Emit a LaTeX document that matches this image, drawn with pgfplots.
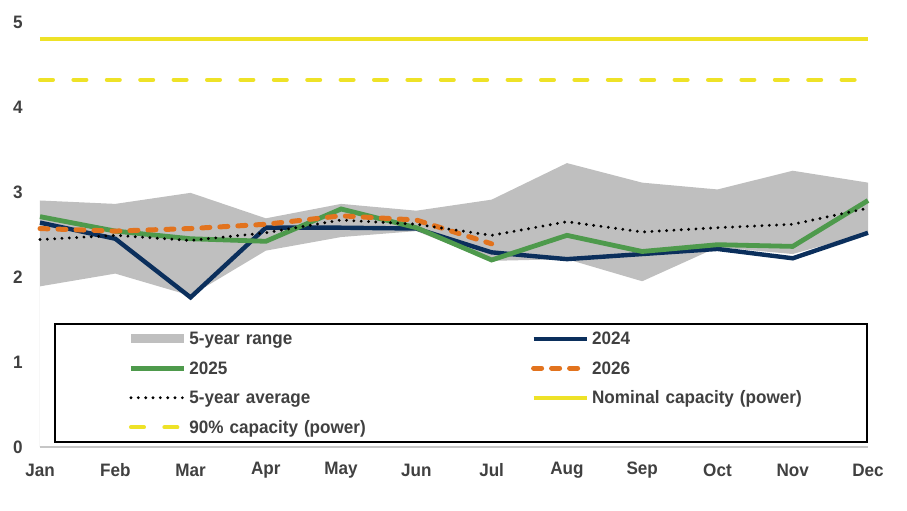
\documentclass[border=0pt]{standalone}
\usepackage{pgfplots}
\pgfplotsset{compat=1.18}
\usepackage{fontspec}
\setmainfont{Liberation Sans}[FakeStretch=0.95]
\definecolor{txt}{HTML}{404040}
\definecolor{rng}{HTML}{BFBFBF}
\definecolor{navy}{HTML}{0B2F5C}
\definecolor{grn}{HTML}{4E9A4C}
\definecolor{org}{HTML}{E2731E}
\definecolor{yel}{HTML}{EEE227}
\begin{document}
\begin{tikzpicture}
\begin{axis}[
  scale only axis,
  width=414pt, height=212.5pt,
  xmin=0, xmax=11, ymin=0, ymax=5,
  xtick={0,...,11},
  xticklabels={Jan,Feb,Mar,Apr,May,Jun,Jul,Aug,Sep,Oct,Nov,Dec},
  ytick={0,1,2,3,4,5},
  axis y line=none,
  axis x line*=bottom,
  x axis line style={draw=gray!45, line width=0.8pt, -},
  major tick length=0pt,
  xticklabel style={anchor=center, yshift=-11.5pt},
  tick label style={font=\fontsize{9}{10}\selectfont\bfseries, text=txt},
  /pgf/number format/assume math mode=true,
  clip=false,
  legend columns=2,
  legend style={at={(rel axis cs:0.0169,0.2918)}, anchor=north west,
    draw=black, line width=1pt, inner xsep=3pt, inner ysep=0pt,
    font=\fontsize{9}{10}\selectfont\bfseries, text=txt,
    nodes={anchor=west, text width=133pt, inner xsep=1.5pt, inner ysep=3.375pt,
      text height=7pt, text depth=1pt},
    /tikz/column 2/.style={column sep=2.6pt}},
  legend cell align=left,
  legend image code/.code={\path[draw=none,fill=none] (-35pt,0pt) -- (0pt,0pt);
    \draw[#1] (0pt,0pt) -- (26.5pt,0pt);},
]
\addplot[fill=rng, draw=none, area legend,
  legend image code/.code={\path[draw=none,fill=none] (-35pt,0pt) -- (0pt,0pt);
    \fill[rng] (0pt,-2.25pt) rectangle (26.5pt,2.25pt);}]
  coordinates {(0,2.90) (1,2.86) (2,2.99) (3,2.69) (4,2.86) (5,2.78)
    (6,2.91) (7,3.34) (8,3.11) (9,3.03) (10,3.25) (11,3.11)
    (11,2.52) (10,2.27) (9,2.35) (8,1.95) (7,2.21) (6,2.19)
    (5,2.54) (4,2.47) (3,2.31) (2,1.78) (1,2.04) (0,1.89)} \closedcycle;
\addlegendentry{5-year range}
\addplot[navy, line width=2.2pt] coordinates {(0,2.64) (1,2.45) (2,1.76) (3,2.58) (4,2.58) (5,2.57)
  (6,2.29) (7,2.21) (8,2.27) (9,2.33) (10,2.22) (11,2.52)};
\addlegendentry{2024}
\addplot[grn, line width=2.4pt] coordinates {(0,2.71) (1,2.54) (2,2.45) (3,2.42) (4,2.80) (5,2.58)
  (6,2.20) (7,2.49) (8,2.30) (9,2.38) (10,2.36) (11,2.90)};
\addlegendentry{2025}
\addplot[org, line width=2.5pt, line cap=round, dash pattern=on 4pt off 5pt] coordinates {(0,2.57) (1,2.54) (2,2.57) (3,2.62) (4,2.72) (5,2.67) (6,2.39)};
\addlegendentry{2026}
\addplot[black, line width=1.6pt, line cap=round, dash pattern=on 0pt off 3.67pt] coordinates {(0,2.44) (1,2.49) (2,2.43) (3,2.52) (4,2.67) (5,2.62)
  (6,2.49) (7,2.65) (8,2.53) (9,2.58) (10,2.62) (11,2.81)};
\addlegendentry{5-year average}
\addplot[yel, line width=2pt] coordinates {(0,4.80) (11,4.80)};
\addlegendentry{Nominal capacity (power)}
\addplot[yel, line width=2pt, line cap=round, dash pattern=on 6.5pt off 10.2pt] coordinates {(0,4.32) (11,4.32)};
\addlegendentry{90\% capacity (power)}
\foreach \v in {0,1,2,3,4,5} {
  \edef\tmp{\noexpand\node[anchor=center, text=txt, font=\noexpand\fontsize{9}{10}\noexpand\selectfont\noexpand\bfseries, xshift=-11pt] at (axis cs:0,\v) {\v};}
  \tmp
}
\path (rel axis cs:0,0) ++(-20pt,-32pt) coordinate (bl);
\path (rel axis cs:1,1) ++(19.5pt,11pt) coordinate (tr);
\end{axis}
\useasboundingbox (bl) rectangle (tr);
\end{tikzpicture}
\end{document}
